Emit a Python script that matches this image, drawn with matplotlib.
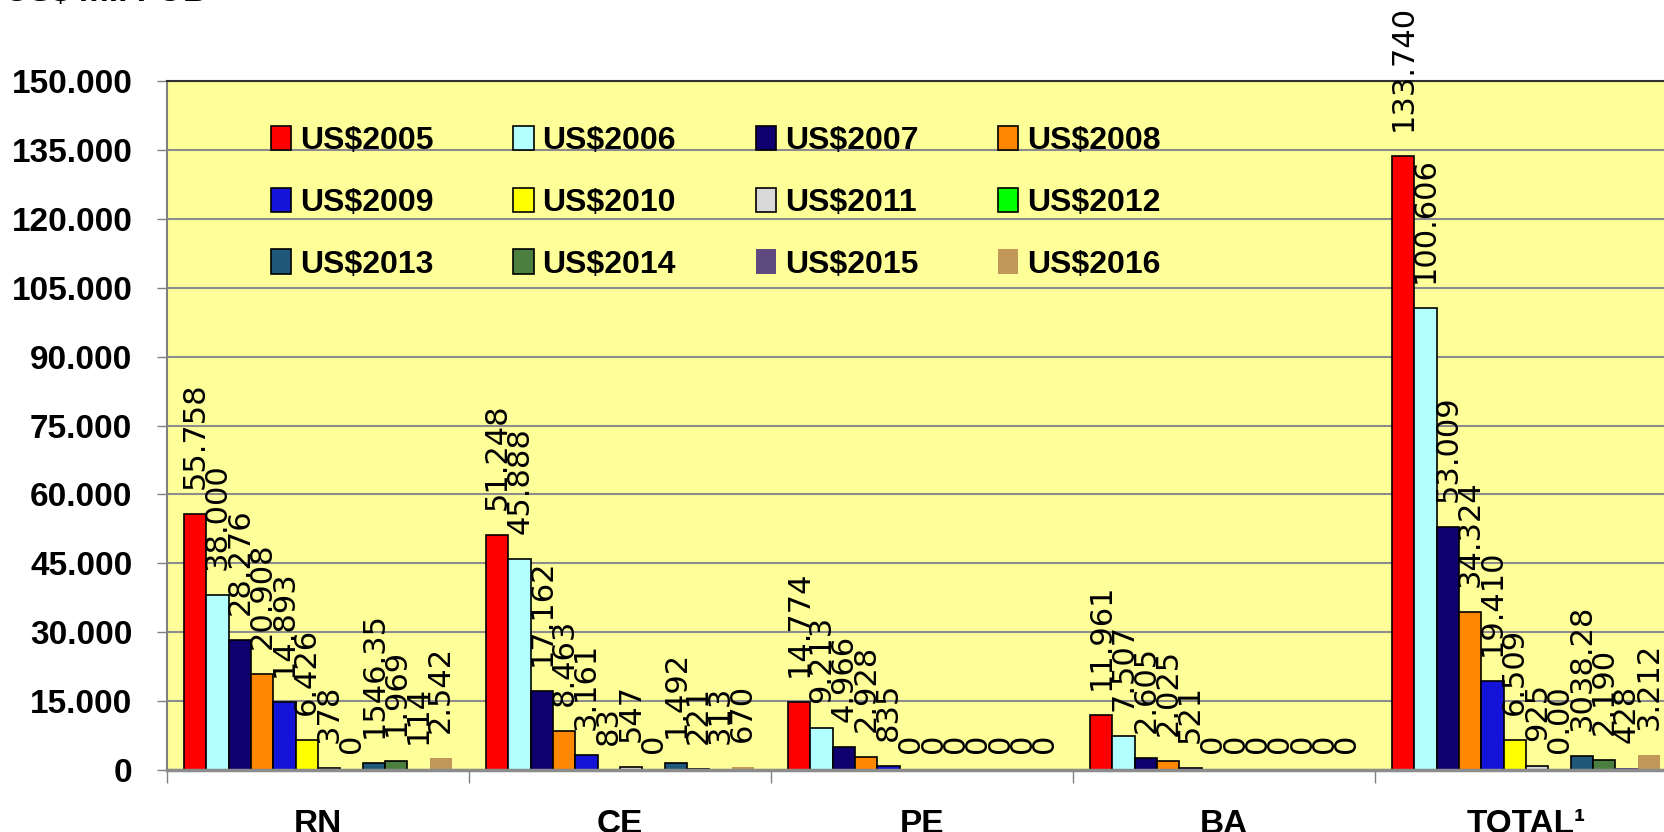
import numpy as np
import matplotlib
matplotlib.use('Agg')
import matplotlib.pyplot as plt

# exportacoes por estado, US$ mil FOB
estados = ['RN', 'CE', 'PE', 'BA', 'TOTAL¹']
anos = ['US$2005', 'US$2006', 'US$2007', 'US$2008', 'US$2009', 'US$2010',
        'US$2011', 'US$2012', 'US$2013', 'US$2014', 'US$2015', 'US$2016']
rn = [55758, 38000, 28276, 20908, 14893, 6426, 378, 0, 1546.35, 1969, 114, 2542]
ce = [51248, 45888, 17162, 8463, 3161, 83, 547, 0, 1492, 221, 313, 670]
pe = [14774, 9213, 4966, 2928, 835, 0, 0, 0, 0, 0, 0, 0]
ba = [11961, 7507, 2605, 2025, 521, 0, 0, 0, 0, 0, 0, 0]
total = [133740, 100606, 53009, 34324, 19410, 6509, 925, 0, 3038.28, 2190, 428, 3212]
# rotulo que aparece diferente do valor (total 2012 escrito como 0.00)
rotulos_extra = {(4, 7): '0.00'}

cores = ['#FF0000', '#B3FFFF', '#10006E', '#FF8800', '#1414D8', '#FFFF00',
         '#D9D9D9', '#00FF00', '#1F5878', '#4A7F3F', '#5E4A7E', '#C2975A']
bordas = ['black'] * 10 + ['none', 'none']

dados = np.array([rn, ce, pe, ba, total])  # estado x ano

def fmt(v):
    if v != int(v):
        return '%.2f' % v
    return '{:,}'.format(int(v)).replace(',', '.')

FONTE = ['Liberation Sans', 'DejaVu Sans']

fig = plt.figure(figsize=(16.65, 8.32), dpi=100)
ax = fig.add_axes([167/1665, 62/832, 1510/1665, 689/832])
ax.set_facecolor('#FFFF99')

x = np.arange(len(estados))
w = 0.0739
barras = []
for k in range(len(anos)):
    pos = x + (k - 5.5) * w
    b = ax.bar(pos, dados[:, k], w, color=cores[k], edgecolor=bordas[k],
               linewidth=1.2, label=anos[k], zorder=3)
    barras.append(b)
    for i, (xi, v) in enumerate(zip(pos, dados[:, k])):
        txt = rotulos_extra.get((i, k), fmt(v))
        off = 18 if v > 0 else 12
        ax.annotate(txt, xy=(xi, v), xytext=(0, off), textcoords='offset points',
                    rotation=90, ha='center', va='bottom', fontsize=22,
                    family='DejaVu Sans', zorder=5)

ax.set_xlim(-0.5, 4.5)
ax.set_ylim(0, 150000)
yt = np.arange(0, 150001, 15000)
ax.set_yticks(yt)
ax.set_yticklabels(['0' if v == 0 else fmt(v) for v in yt],
                   fontsize=24, fontweight='bold', family=FONTE)
ax.yaxis.grid(True, color='#8C8C8C', linewidth=1.5)
ax.set_axisbelow(True)

ax.set_xticks(np.arange(-0.5, 5, 1))
ax.set_xticklabels([])
ax.set_xticks(x, minor=True)
ax.set_xticklabels(estados, minor=True, fontsize=24, fontweight='bold', family=FONTE)
ax.tick_params(axis='x', which='minor', length=0, pad=28)
ax.tick_params(axis='x', which='major', length=9, color='#808080', width=1)
ax.tick_params(axis='y', length=7, color='#808080', width=1, pad=18)

ax.spines['left'].set_color('#808080')
ax.spines['left'].set_linewidth(1.5)
ax.spines['bottom'].set_color('#8C8C8C')
ax.spines['bottom'].set_linewidth(2.5)
ax.spines['bottom'].set_zorder(4)
ax.spines['top'].set_color('#303030')
ax.spines['top'].set_linewidth(1.5)
ax.spines['right'].set_visible(False)

# legenda em linhas (4 colunas)
ordem = [r * 4 + j for j in range(4) for r in range(3)]
h = [barras[i] for i in ordem]
l = [anos[i] for i in ordem]
ax.legend(h, l, ncol=4, loc='upper left', frameon=False,
          bbox_to_anchor=(271/1665, 1 - 126/832), bbox_transform=fig.transFigure,
          prop={'family': FONTE, 'weight': 'bold', 'size': 23},
          handlelength=0.63, handleheight=0.8, handletextpad=0.28,
          columnspacing=2.5, labelspacing=0.98, borderpad=0, borderaxespad=0)

fig.text(0.003, 1 - 1/832, 'US$ mil FOB', fontsize=24, fontweight='bold',
         family=FONTE, va='baseline', ha='left')

fig.savefig('out.png', dpi=100)
